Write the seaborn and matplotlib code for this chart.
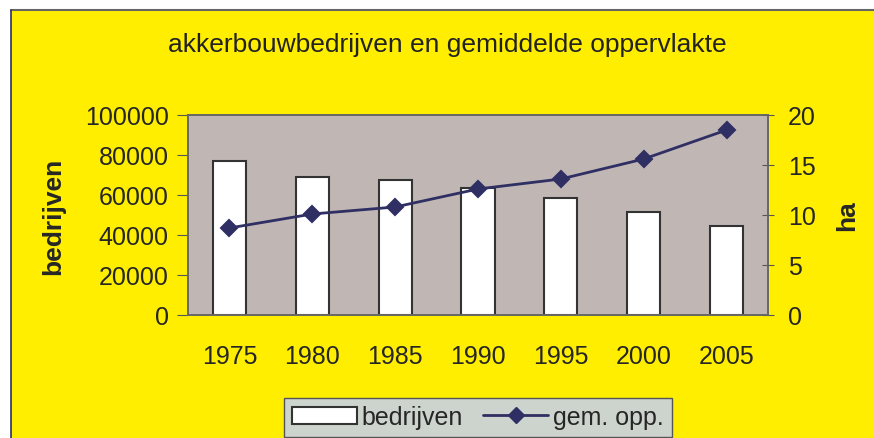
import numpy as np
import pandas as pd
import matplotlib
matplotlib.use("Agg")
import matplotlib.pyplot as plt
import seaborn as sns
from matplotlib.patches import Rectangle, Patch
from matplotlib.lines import Line2D

years = ["1975", "1980", "1985", "1990", "1995", "2000", "2005"]
bedrijven = [77000, 69000, 67500, 63700, 58300, 51500, 44300]
gem_opp = [8.7, 10.1, 10.8, 12.6, 13.6, 15.6, 18.5]

df = pd.DataFrame({"jaar": years, "bedrijven": bedrijven, "ha": gem_opp})

sns.set_style("white")
plt.rcParams["font.family"] = ["Liberation Sans", "DejaVu Sans"]

yellow = "#FFEE00"
line_col = "#2F2F63"
edge = "#333333"
fs = 18

fig = plt.figure(figsize=(8.74, 4.39), dpi=100, facecolor="white")
# yellow chart area, open at right and bottom
x0, y1 = 10.5 / 874, 1 - 11 / 439
fig.patches.append(Rectangle((x0, 0), 1 - x0, y1, transform=fig.transFigure,
                             facecolor=yellow, edgecolor="none", zorder=-10))
fig.lines.append(Line2D([x0, 1], [y1, y1], transform=fig.transFigure,
                        color="#666666", linewidth=1.5, zorder=-9))
fig.lines.append(Line2D([x0, x0], [0, y1], transform=fig.transFigure,
                        color="#2F2F63", linewidth=1.2, zorder=-9))

ax = fig.add_axes([188 / 874, 1 - 316 / 439, 580 / 874, 200 / 439])
ax.set_facecolor("#C0B7B5")

sns.barplot(data=df, x="jaar", y="bedrijven", ax=ax, color="white",
            edgecolor=edge, linewidth=1.5, width=0.4, saturation=1)
ax.set_ylim(0, 100000)
ax.set_yticks(np.arange(0, 100001, 20000))
ax.set_xlim(-0.5, len(years) - 0.5)
ax.set_xlabel("")
ax.set_ylabel("bedrijven", fontsize=19, fontweight="bold", labelpad=14)
ax.tick_params(axis="y", labelsize=fs, direction="out", length=8, color="#555555", pad=6)
ax.tick_params(axis="x", which="major", labelsize=fs, length=0, pad=21)
ax.set_xticks(np.arange(-0.5, len(years), 1.0), minor=True)
ax.tick_params(axis="x", which="minor", direction="inout", length=9, color="#555555")

ax2 = ax.twinx()
sns.pointplot(data=df, x="jaar", y="ha", ax=ax2, color=line_col, markers="D",
              linestyles="-", markersize=8, linewidth=2)
ax2.set_ylim(0, 20)
ax2.set_yticks(np.arange(0, 21, 5))
ax2.set_xlim(-0.5, len(years) - 0.5)
ax2.set_ylabel("ha", fontsize=19, fontweight="bold", labelpad=14)
ax2.tick_params(axis="y", labelsize=fs, direction="inout", length=9, color="#555555", pad=10)

for a in (ax, ax2):
    for s in a.spines.values():
        s.set_color("#666666")
        s.set_linewidth(1.2)

fig.text(447 / 874, 1 - 45 / 439, "akkerbouwbedrijven en gemiddelde oppervlakte",
         ha="center", va="center", fontsize=19, color="#222222")

handles = [Patch(facecolor="white", edgecolor=edge, linewidth=1.5),
           Line2D([0], [0], color=line_col, marker="D", markersize=8, linewidth=2)]
leg = fig.legend(handles, ["bedrijven", "gem. opp."], loc="center",
                 bbox_to_anchor=(478 / 874, 1 - 418 / 439), ncol=2, fontsize=fs,
                 frameon=True, fancybox=False, handlelength=2.6, handletextpad=0.2,
                 columnspacing=0.8, borderpad=0.3)
leg.get_frame().set_facecolor("#CDD3CD")
leg.get_frame().set_edgecolor("#555555")
leg.get_frame().set_alpha(1)

fig.savefig("out.png", dpi=100, facecolor=fig.get_facecolor())
